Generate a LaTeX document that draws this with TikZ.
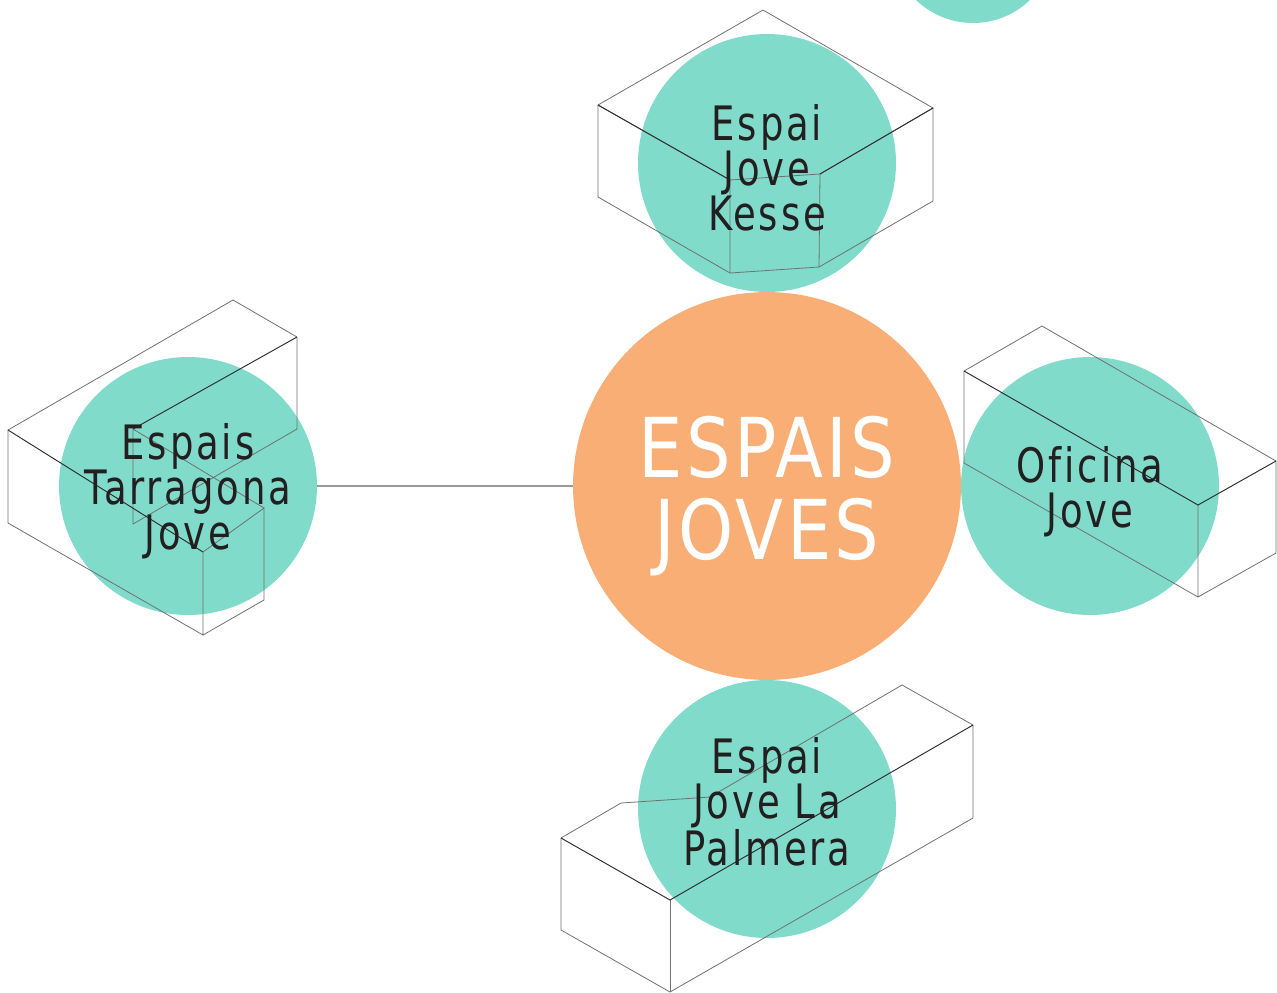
\documentclass[tikz,border=0pt]{standalone}
\usepackage{fontspec}
\newfontfamily\labelfont[FakeStretch=0.78,LetterSpace=6,Ligatures=NoCommon]{DejaVu Sans}
\newfontfamily\hubfont[FakeStretch=0.85,LetterSpace=4]{DejaVu Sans}
\usetikzlibrary{positioning}

\definecolor{mint}{HTML}{80DBCA}
\definecolor{peach}{HTML}{F8AE74}
\definecolor{ink}{HTML}{231F20}
\definecolor{wiregray}{HTML}{707070}
\definecolor{wiredark}{HTML}{303030}

\tikzstyle{bubble}=[circle,fill=mint,minimum size=5.16cm,inner sep=0pt]
\tikzstyle{hub}=[circle,fill=peach,minimum size=7.76cm,inner sep=0pt]
\tikzstyle{bubbletext}=[align=center,text=ink,inner sep=0pt,
    font=\labelfont\fontsize{27}{25.6}\selectfont]
\tikzstyle{hubtext}=[align=center,text=white,inner sep=0pt,
    font=\hubfont\fontsize{47}{46.7}\selectfont]
\tikzstyle{wire}=[draw=wiregray,line width=0.45pt]
\tikzstyle{crease}=[draw=wiredark,line width=0.55pt]
\tikzstyle{link}=[draw=gray!80,line width=1.1pt]
\newcommand{\pxscale}{0.02}

\begin{document}
\begin{tikzpicture}[x=\pxscale cm, y=-\pxscale cm]
    \useasboundingbox (0,0) rectangle (1277,992);
    % First we draw the circles
    \node[hub] (centre) at (767,486) {};
    \node[bubble] (kesse) at (767,163) {};
    \node[bubble] (tarragona) at (188,486) {};
    \node[bubble] (oficina) at (1090,486) {};
    \node[bubble] (palmera) at (767,809) {};
    \node[bubble,minimum size=3.28cm] (corner) at (973,-59) {};
    \path[link] (tarragona) -- (centre);

    % Then the wire boxes
    \coordinate (kt) at (763,10);   \coordinate (kl) at (598,105);
    \coordinate (kr) at (933,108);  \coordinate (klb) at (598,197);
    \coordinate (krb) at (933,201); \coordinate (kil) at (730,180);
    \coordinate (kir) at (820,174); \coordinate (kilb) at (730,273);
    \coordinate (kirb) at (819,267);
    \path[wire] (kil) -- (kl) -- (kt) -- (kr) -- (kir) -- (kil) -- (kilb) -- (kirb) -- (kir);
    \path[wire] (kl) -- (klb) -- (kilb) (kr) -- (krb) -- (kirb);
    \path[crease] (kl) -- (kil) (kr) -- (kir);

    \coordinate (ta) at (233,300);  \coordinate (tb) at (297,337);
    \coordinate (tc) at (8,430);    \coordinate (td) at (8,523);
    \coordinate (te) at (203,635);  \coordinate (tf) at (264,508);
    \coordinate (tg) at (203,552);  \coordinate (tfb) at (264,600);
    \coordinate (ti) at (133,429);  \coordinate (tib) at (133,524);
    \coordinate (tbb) at (297,429);
    \path[wire] (tb) -- (ta) -- (tc) -- (td) -- (te) -- (tg) -- (tf) -- (tfb) -- (te);
    \path[wire] (tb) -- (tbb) -- (tib) -- (ti) -- (tf);
    \path[crease] (tc) -- (tg) (tb) -- (ti);

    \coordinate (oa) at (1042,326); \coordinate (ob) at (964,371);
    \coordinate (oc) at (1276,461); \coordinate (od) at (1198,505);
    \coordinate (obb) at (964,463); \coordinate (odb) at (1198,597);
    \coordinate (ocb) at (1276,553);
    \path[wire] (ob) -- (oa) -- (oc) -- (ocb) -- (odb) -- (obb) -- (ob) (od) -- (odb);
    \path[crease] (ob) -- (od) -- (oc);

    \coordinate (pa) at (902,685);  \coordinate (pb) at (973,725);
    \coordinate (pbb) at (973,818); \coordinate (pk) at (710,797);
    \coordinate (pc) at (621,803);  \coordinate (pd) at (561,838);
    \coordinate (pe) at (670,900);  \coordinate (pdb) at (561,930);
    \coordinate (peb) at (670,992);
    \path[wire] (pd) -- (pc) -- (pk) -- (pa) -- (pb) -- (pbb) -- (peb) -- (pdb) -- (pd);
    \path[wire] (pe) -- (peb);
    \path[crease] (pd) -- (pe) -- (pb);

    % Labels on top
    \node[hubtext] (centretext) at ([yshift=-6pt]centre.center) {ESPAIS\\JOVES};
    \node[bubbletext] (kessetext) at ([yshift=-3pt]kesse.center) {Espai\\Jove\\Kesse};
    \node[bubbletext] (tarragonatext) at ([yshift=-3pt]tarragona.center) {Espais\\Tarragona\\Jove};
    \node[bubbletext] (oficinatext) at ([yshift=-3pt]oficina.center) {Oficina\\Jove};
    \node[bubbletext] (palmeratext) at ([yshift=4pt]palmera.center) {Espai\\Jove La\\Palmera};
\end{tikzpicture}
\end{document}
